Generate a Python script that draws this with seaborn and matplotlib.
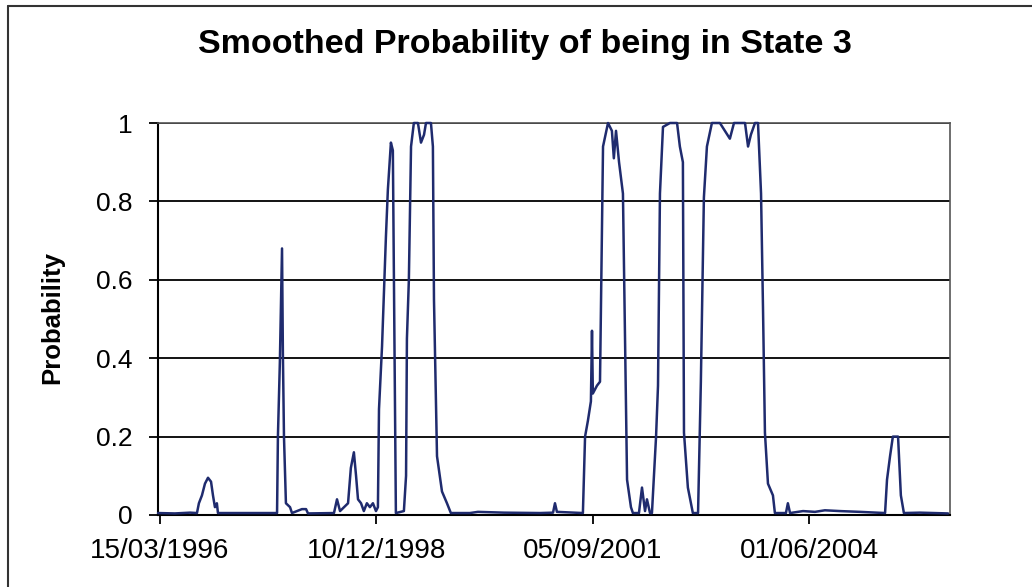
import matplotlib
matplotlib.use("Agg")
import matplotlib.pyplot as plt
import matplotlib.dates as mdates
from matplotlib.lines import Line2D
import pandas as pd
import seaborn as sns

# ---- data ----
dates = [
    "1996-03-06", "1996-05-23", "1996-08-01", "1996-09-02", "1996-09-11", "1996-09-25",
    "1996-10-09", "1996-10-23", "1996-11-06", "1996-11-15", "1996-11-24", "1996-12-03",
    "1996-12-08", "1997-03-20", "1997-06-20", "1997-09-07", "1997-09-11", "1997-09-20",
    "1997-09-30", "1997-10-04", "1997-10-09", "1997-10-18", "1997-11-06", "1997-11-15",
    "1997-12-31", "1998-01-19", "1998-01-28", "1998-05-28", "1998-06-11", "1998-06-25",
    "1998-08-01", "1998-08-14", "1998-08-28", "1998-09-07", "1998-09-16", "1998-09-30",
    "1998-10-13", "1998-10-27", "1998-11-10", "1998-11-24", "1998-12-08", "1998-12-17",
    "1998-12-22", "1999-01-05", "1999-01-23", "1999-02-01", "1999-02-15", "1999-02-24",
    "1999-03-10", "1999-04-16", "1999-04-26", "1999-04-30", "1999-05-09", "1999-05-19",
    "1999-06-01", "1999-06-20", "1999-07-04", "1999-07-18", "1999-07-27", "1999-08-19",
    "1999-08-28", "1999-09-02", "1999-09-16", "1999-10-09", "1999-11-01", "1999-11-19",
    "2000-02-15", "2000-03-23", "2000-07-21", "2001-01-04", "2001-03-05", "2001-03-14",
    "2001-03-23", "2001-07-21", "2001-07-31", "2001-08-13", "2001-08-27", "2001-09-01",
    "2001-09-05", "2001-09-24", "2001-10-08", "2001-10-22", "2001-11-14", "2001-12-02",
    "2001-12-11", "2001-12-21", "2002-01-04", "2002-01-22", "2002-02-10", "2002-02-28",
    "2002-03-09", "2002-04-06", "2002-04-20", "2002-05-04", "2002-05-13", "2002-05-27",
    "2002-06-05", "2002-06-24", "2002-07-03", "2002-07-12", "2002-07-26", "2002-08-27",
    "2002-09-29", "2002-10-12", "2002-10-26", "2002-10-31", "2002-11-18", "2002-12-11",
    "2003-01-04", "2003-01-17", "2003-01-31", "2003-02-14", "2003-03-09", "2003-04-15",
    "2003-05-08", "2003-05-31", "2003-06-19", "2003-08-09", "2003-08-23", "2003-09-05",
    "2003-09-24", "2003-10-08", "2003-10-22", "2003-10-31", "2003-11-09", "2003-11-23",
    "2003-12-16", "2003-12-25", "2004-02-14", "2004-02-23", "2004-03-04", "2004-05-03",
    "2004-06-27", "2004-08-12", "2004-10-21", "2005-01-21", "2005-05-17", "2005-05-26",
    "2005-06-09", "2005-06-22", "2005-07-16", "2005-07-29", "2005-08-12", "2005-10-25",
    "2005-12-24", "2006-03-04",
]
probability = [
    0.005, 0.004, 0.006, 0.005, 0.03, 0.05,
    0.08, 0.095, 0.085, 0.05, 0.02, 0.03,
    0.005, 0.005, 0.005, 0.005, 0.20, 0.39,
    0.68, 0.41, 0.20, 0.03, 0.02, 0.005,
    0.015, 0.015, 0.004, 0.005, 0.04, 0.01,
    0.03, 0.12, 0.16, 0.10, 0.04, 0.03,
    0.01, 0.03, 0.02, 0.03, 0.01, 0.02,
    0.27, 0.43, 0.71, 0.83, 0.95, 0.93,
    0.005, 0.01, 0.10, 0.45, 0.60, 0.94,
    1.0, 1.0, 0.95, 0.97, 1.0, 1.0,
    0.94, 0.55, 0.15, 0.06, 0.03, 0.005,
    0.005, 0.008, 0.006, 0.005, 0.006, 0.03,
    0.008, 0.005, 0.20, 0.24, 0.29, 0.47,
    0.31, 0.33, 0.34, 0.94, 1.0, 0.98,
    0.91, 0.98, 0.90, 0.82, 0.09, 0.02,
    0.005, 0.005, 0.07, 0.01, 0.04, 0.005,
    0.005, 0.20, 0.33, 0.82, 0.99, 1.0,
    1.0, 0.94, 0.90, 0.21, 0.07, 0.005,
    0.005, 0.34, 0.81, 0.94, 1.0, 1.0,
    0.98, 0.96, 1.0, 1.0, 0.94, 0.97,
    1.0, 1.0, 0.82, 0.53, 0.21, 0.08,
    0.05, 0.005, 0.005, 0.03, 0.005, 0.01,
    0.008, 0.012, 0.01, 0.008, 0.005, 0.09,
    0.15, 0.20, 0.20, 0.05, 0.005, 0.006,
    0.005, 0.004,
]
tick_dates = ["1996-03-15", "1998-12-10", "2001-09-05", "2004-06-01"]
y_ticks = [0, 0.2, 0.4, 0.6, 0.8, 1.0]
y_tick_labels = ["0", "0.2", "0.4", "0.6", "0.8", "1"]
title_text = "Smoothed Probability of being in State 3"
ylabel_text = "Probability"

# ---- styling ----
sns.set_theme(style="white")
plt.rcParams["font.family"] = ["Liberation Sans", "DejaVu Sans"]

W, H = 1032, 587
fig = plt.figure(figsize=(W / 100, H / 100), dpi=100)
fig.patch.set_facecolor("white")
ax = fig.add_axes([158 / W, 1 - 515 / H, (950 - 158) / W, (515 - 123) / H])

df = pd.DataFrame({"date": pd.to_datetime(dates), "probability": probability})
sns.lineplot(data=df, x="date", y="probability", ax=ax, color="#1f2b6e",
             linewidth=1.8, estimator=None, sort=False, legend=False)
for ln in ax.get_lines():
    ln.set_clip_on(False)
    ln.set_zorder(3)

ax.set_xlim(pd.Timestamp("1996-03-06"), pd.Timestamp("2006-03-13"))
ax.set_ylim(0, 1)
ax.set_yticks(y_ticks, y_tick_labels)
ax.set_xticks(pd.to_datetime(tick_dates))
ax.xaxis.set_major_formatter(mdates.DateFormatter("%d/%m/%Y"))
ax.yaxis.grid(True, color="black", linewidth=1.3)
ax.xaxis.grid(False)
ax.set_axisbelow(True)
ax.set_xlabel("")
ax.set_ylabel("")

ax.tick_params(axis="both", which="major", direction="out", length=6.5, width=1.3,
               color="black", labelcolor="black", left=True, bottom=True)
ax.tick_params(axis="y", pad=12, labelsize=19)
ax.tick_params(axis="x", pad=10, labelsize=20)

for side in ["left", "bottom"]:
    ax.spines[side].set_color("black")
    ax.spines[side].set_linewidth(1.5)
for side in ["right", "top"]:
    ax.spines[side].set_color("#555555")
    ax.spines[side].set_linewidth(1.2)

fig.text(525 / W, 1 - 45 / H, title_text, ha="center", va="center",
         fontsize=24.5, fontweight="bold", color="black")
fig.text(52 / W, 1 - 318 / H, ylabel_text, ha="center", va="center",
         rotation=90, fontsize=18.5, fontweight="bold", color="black")

# outer chart frame (top and left edges visible in the reference)
fig.add_artist(Line2D([8 / W, 8 / W], [0, 1 - 6 / H], transform=fig.transFigure,
                      color="#333333", linewidth=1.5))
fig.add_artist(Line2D([8 / W, 1], [1 - 6 / H, 1 - 6 / H], transform=fig.transFigure,
                      color="#333333", linewidth=1.5))

fig.savefig("out.png", dpi=100, facecolor="white")
